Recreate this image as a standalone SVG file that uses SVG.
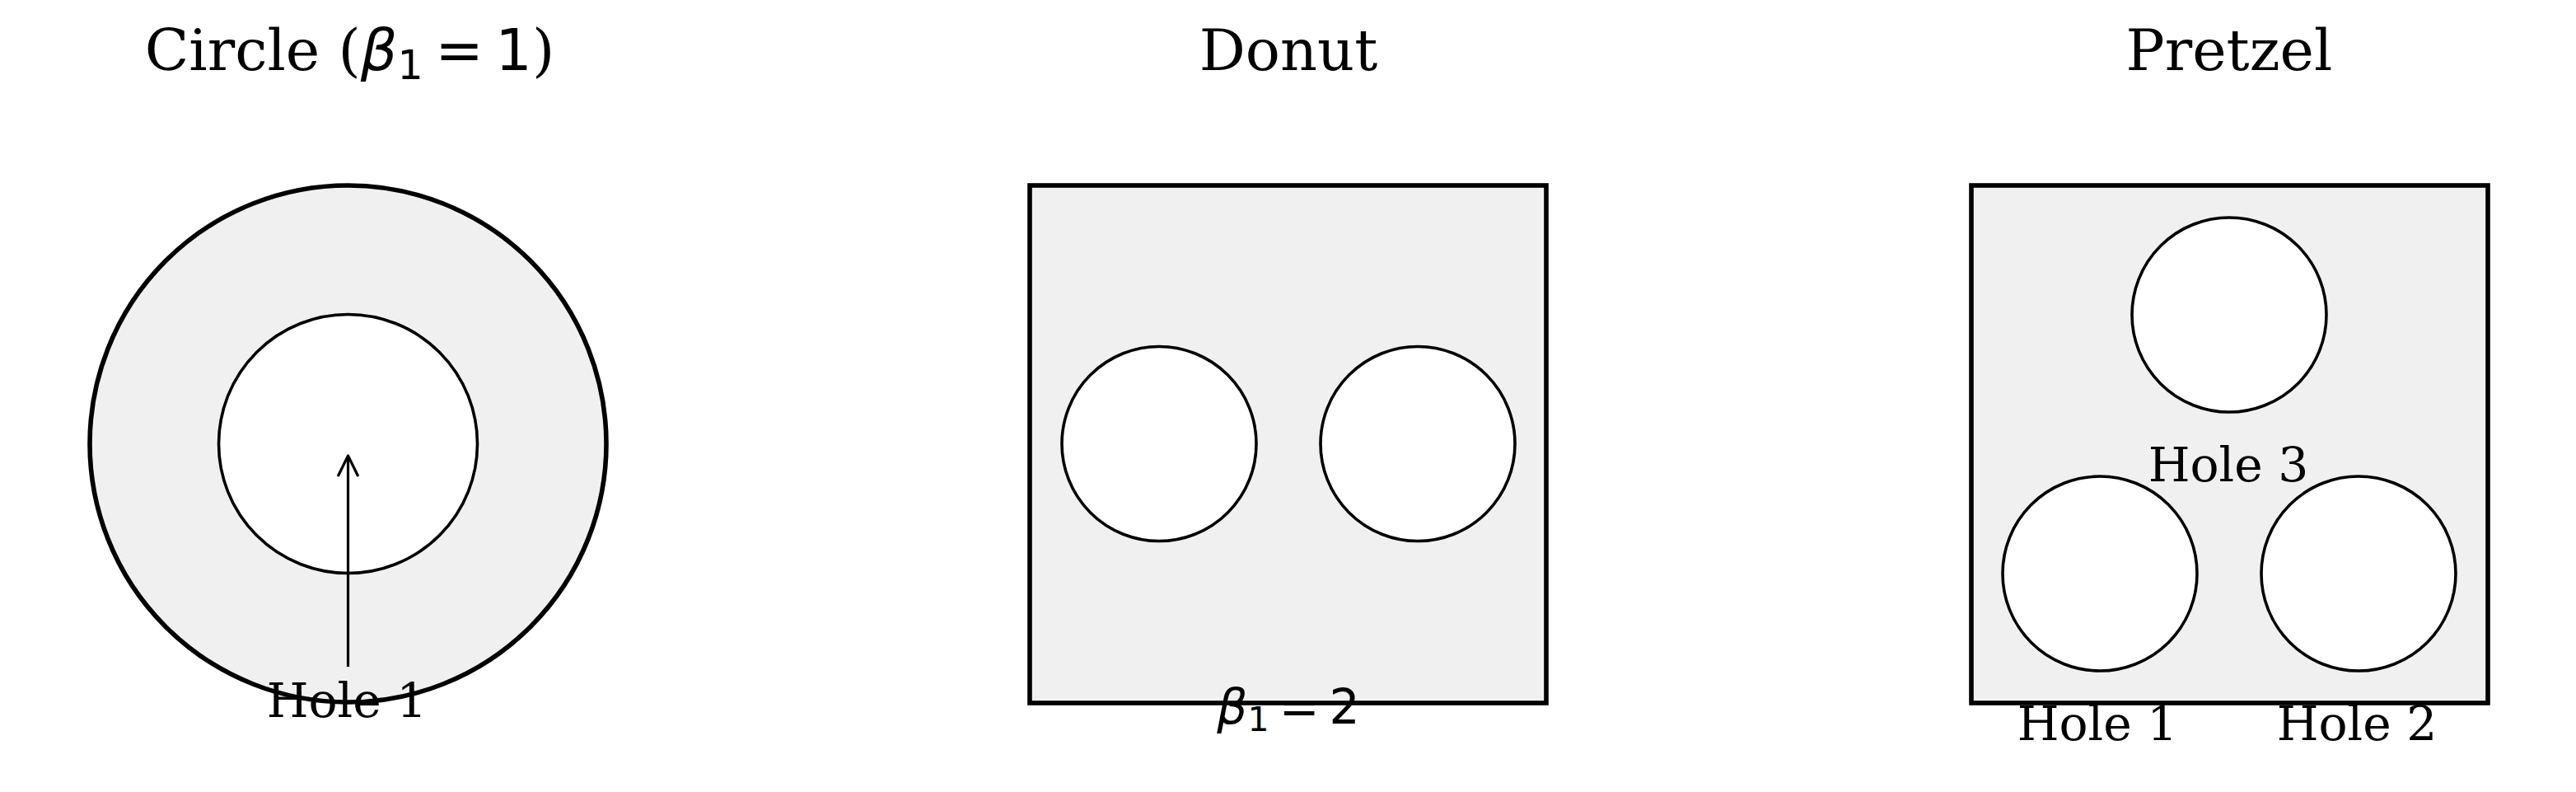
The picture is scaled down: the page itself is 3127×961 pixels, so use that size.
<svg xmlns="http://www.w3.org/2000/svg" width="3127" height="961" viewBox="0 0 3127 961">
<defs>
<style>
.bg{fill:#ffffff}
.shape{fill:#f0f0f0;stroke:#000;stroke-width:5.6}
.hole{fill:#ffffff;stroke:#000;stroke-width:3.6}
.title{font-family:"DejaVu Serif","Liberation Serif",serif;font-size:70px;fill:#000}
.lbl{font-family:"DejaVu Serif","Liberation Serif",serif;font-size:58.3px;fill:#000}
.m{font-family:"DejaVu Sans","Liberation Sans",sans-serif}
.mi{font-family:"DejaVu Sans","Liberation Sans",sans-serif;font-style:italic}
.conn{fill:none;stroke:#000;stroke-width:3.2;stroke-linejoin:round}
</style>
</defs>
<rect class="bg" x="0" y="0" width="3127" height="961"/>

<g id="circle-panel">
<circle class="shape" cx="422.5" cy="538.5" r="313.5"/>
<circle class="hole" cx="422.5" cy="538.5" r="157"/>
<text class="title" x="424.5" y="85" text-anchor="middle">Circle (<tspan class="mi">β</tspan><tspan class="m" font-size="49px" dy="10.5">1</tspan><tspan class="m" dy="-10.5" dx="14.5">=</tspan><tspan class="m" dx="14.5">1</tspan>)</text>
<text class="lbl" x="421" y="869.5" text-anchor="middle">Hole 1</text>
</g>

<g id="donut-panel">
<rect class="shape" x="1250" y="225" width="627" height="628"/>
<circle class="hole" cx="1407" cy="538.5" r="118"/>
<circle class="hole" cx="1721" cy="538.5" r="118"/>
<text class="title" x="1564" y="85" text-anchor="middle">Donut</text>
<text class="lbl" x="1564" y="878" text-anchor="middle"><tspan class="mi">β</tspan><tspan class="m" font-size="41px" dy="8.5">1</tspan><tspan class="m" dy="-8.5" dx="12">=</tspan><tspan class="m" dx="12">2</tspan></text>
</g>

<g id="pretzel-panel">
<rect class="shape" x="2393" y="225" width="627" height="628"/>
<circle class="hole" cx="2706" cy="382" r="118"/>
<circle class="hole" cx="2549" cy="696" r="118"/>
<circle class="hole" cx="2863" cy="696" r="118"/>
<text class="title" x="2706" y="85" text-anchor="middle">Pretzel</text>
<text class="lbl" x="2705" y="584" text-anchor="middle">Hole 3</text>
<text class="lbl" x="2546" y="898" text-anchor="middle">Hole 1</text>
<text class="lbl" x="2861" y="898" text-anchor="middle">Hole 2</text>
</g>

<g id="connectors">
<path class="conn" d="M422.5,809 L422.5,553"/>
<path class="conn" d="M410.2,578 L422.5,553 L434.8,578"/>
</g>
</svg>
